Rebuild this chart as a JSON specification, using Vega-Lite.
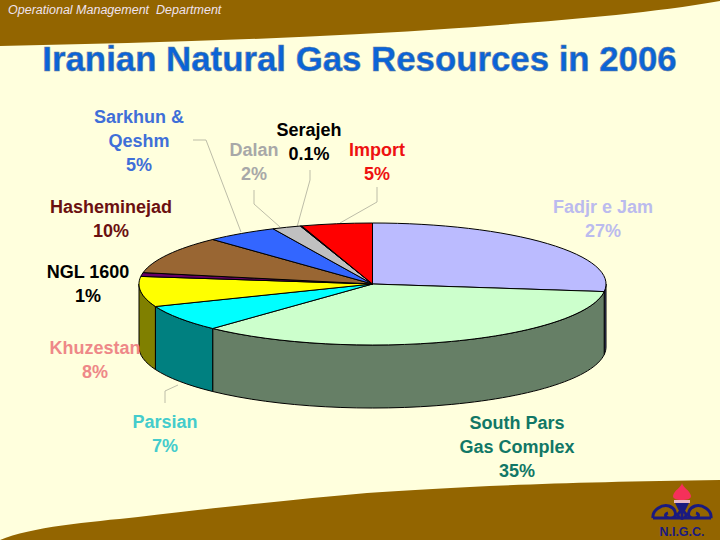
{
"$schema":"https://vega.github.io/schema/vega-lite/v6.json",
"width":720,"height":540,"padding":0,
"autosize":{"type":"fit","contains":"padding"},
"background":"#FFFFDD",
"config":{"view":{"stroke":null},"axis":{"grid":false}},
"datasets":{
"slices":[
{"name":"Fadjr e Jam","share":27,"label":"Fadjr e Jam\n27%","lx":603,"ly":199},
{"name":"South Pars Gas Complex","share":35,"label":"South Pars\nGas Complex\n35%","lx":517,"ly":415},
{"name":"Parsian","share":7,"label":"Parsian\n7%","lx":165,"ly":414},
{"name":"Khuzestan","share":8,"label":"Khuzestan\n8%","lx":95,"ly":340},
{"name":"NGL 1600","share":1,"label":"NGL 1600\n1%","lx":88,"ly":264},
{"name":"Hasheminejad","share":10,"label":"Hasheminejad\n10%","lx":111,"ly":199},
{"name":"Sarkhun & Qeshm","share":5,"label":"Sarkhun &\nQeshm\n5%","lx":139,"ly":109},
{"name":"Dalan","share":2,"label":"Dalan\n2%","lx":254,"ly":142},
{"name":"Serajeh","share":0.1,"label":"Serajeh\n0.1%","lx":309,"ly":122},
{"name":"Import","share":5,"label":"Import\n5%","lx":377,"ly":142}
],
"decor":[{"part":"top"},{"part":"bottom"},{"part":"flame"},{"part":"bar"},{"part":"funnel"}]
},
"layer":[
{"data":{"name":"decor"},
 "mark":{"type":"point","filled":true,"opacity":1,"strokeWidth":0},
 "encoding":{
  "x":{"datum":0,"type":"quantitative","scale":{"domain":[0,720],"nice":false,"zero":false},"axis":null},
  "y":{"datum":0,"type":"quantitative","scale":{"domain":[540,0],"nice":false,"zero":false},"axis":null},
  "size":{"value":4},
  "shape":{"field":"part","type":"nominal","legend":null,"scale":{"domain":["top","bottom","flame","bar","funnel"],"range":[
   "M0 0L720 0L720 1C640 15 540 22 459 28C300 39 150 43 0 46Z",
   "M0 540C30 527 90 522 138 517C230 506 300 499 367 493C450 487 560 482 720 480L720 540Z",
   "M682 483C683 488 690 490 691 496C691 499 687 500 682 500C677 500 673 499 673 496C674 490 681 488 682 483Z",
   "M674 500L690 500L690 503L674 503Z",
   "M675 503L689 503L685 511L679 511Z"
  ]}},
  "fill":{"field":"part","type":"nominal","legend":null,"scale":{"domain":["top","bottom","flame","bar","funnel"],"range":["#936500","#936500","#F5305A","#E8B8C8","#1A1A80"]}}
 }},
{"data":{"values":[{"part":"arabesque"}]},
 "mark":{"type":"point","filled":false,"opacity":1,"stroke":"#1A1A80","strokeWidth":3},
 "encoding":{
  "x":{"datum":0,"type":"quantitative"},
  "y":{"datum":0,"type":"quantitative"},
  "size":{"value":4},
  "shape":{"field":"part","type":"nominal","legend":null,"scale":{"domain":["arabesque"],"range":[
   "M653 518L711 518M653 518C652 510 662 504 669 506C677 509 678 519 670 518C665 518 664 514 668 513M711 518C712 510 702 504 695 506C687 509 686 519 694 518C699 518 700 514 696 513M682 509L682 518M678 515A4 3.5 0 1 0 686 515A4 3.5 0 1 0 678 515"
  ]}}
 }},
{"data":{"name":"slices"},
 "transform":[{"filter":{"field":"name","oneOf":["Sarkhun & Qeshm","Dalan","Serajeh","Import","Parsian"]}}],
 "mark":{"type":"point","filled":false,"opacity":1,"stroke":"#BDBDA8","strokeWidth":1},
 "encoding":{
  "x":{"datum":0,"type":"quantitative"},
  "y":{"datum":0,"type":"quantitative"},
  "size":{"value":4},
  "shape":{"field":"name","type":"nominal","legend":null,"scale":{"domain":["Sarkhun & Qeshm","Dalan","Serajeh","Import","Parsian"],"range":[
   "M193 140L206 140L241 232","M254 190L254 204L280 227","M310 170L310 180L297 227","M377 187L377 202L340 223","M165 403L165 391L178 385"
  ]}}
 }},
{"data":{"name":"slices"},
 "transform":[{"filter":{"field":"name","oneOf":["Fadjr e Jam","South Pars Gas Complex","Parsian","Khuzestan"]}}],
 "mark":{"type":"point","filled":true,"opacity":1,"stroke":"#000000","strokeWidth":1},
 "encoding":{
  "x":{"datum":372.5,"type":"quantitative"},
  "y":{"datum":284,"type":"quantitative"},
  "size":{"value":4},
  "shape":{"field":"name","type":"nominal","legend":null,"scale":{"domain":["Fadjr e Jam","South Pars Gas Complex","Parsian","Khuzestan"],"range":[
   "M233.5 0A233.5 61 0 0 1 231.7 7.6L231.7 70.6A233.5 61 0 0 0 233.5 63Z",
   "M231.7 7.6A233.5 61 0 0 1 -159.8 44.5L-159.8 107.5A233.5 61 0 0 0 231.7 70.6Z",
   "M-159.8 44.5A233.5 61 0 0 1 -217.1 22.5L-217.1 85.5A233.5 61 0 0 0 -159.8 107.5Z",
   "M-217.1 22.5A233.5 61 0 0 1 -233.5 0L-233.5 63A233.5 61 0 0 0 -217.1 85.5Z"
  ]}},
  "fill":{"field":"name","type":"nominal","legend":null,"scale":{"domain":["Fadjr e Jam","South Pars Gas Complex","Parsian","Khuzestan"],"range":["#4A4A80","#667F66","#008080","#808000"]}}
 }},
{"data":{"name":"slices"},
 "mark":{"type":"point","filled":true,"opacity":1,"stroke":"#000000","strokeWidth":1},
 "encoding":{
  "x":{"datum":372.5,"type":"quantitative"},
  "y":{"datum":284,"type":"quantitative"},
  "size":{"value":4},
  "shape":{"field":"name","type":"nominal","legend":null,"scale":{"domain":["Fadjr e Jam","South Pars Gas Complex","Parsian","Khuzestan","NGL 1600","Hasheminejad","Sarkhun & Qeshm","Dalan","Serajeh","Import"],"range":[
   "M0 0L0 -61A233.5 61 0 0 1 231.7 7.6Z",
   "M0 0L231.7 7.6A233.5 61 0 0 1 -159.8 44.5Z",
   "M0 0L-159.8 44.5A233.5 61 0 0 1 -217.1 22.5Z",
   "M0 0L-217.1 22.5A233.5 61 0 0 1 -231.7 -7.6Z",
   "M0 0L-231.7 -7.6A233.5 61 0 0 1 -229.4 -11.4Z",
   "M0 0L-229.4 -11.4A233.5 61 0 0 1 -159.8 -44.5Z",
   "M0 0L-159.8 -44.5A233.5 61 0 0 1 -99.4 -55.2Z",
   "M0 0L-99.4 -55.2A233.5 61 0 0 1 -72.2 -58Z",
   "M0 0L-72.2 -58A233.5 61 0 0 1 -70.8 -58.1Z",
   "M0 0L-70.8 -58.1A233.5 61 0 0 1 0 -61Z"
  ]}},
  "fill":{"field":"name","type":"nominal","legend":null,"scale":{"domain":["Fadjr e Jam","South Pars Gas Complex","Parsian","Khuzestan","NGL 1600","Hasheminejad","Sarkhun & Qeshm","Dalan","Serajeh","Import"],"range":["#BBBBFF","#CCFFCC","#00FFFF","#FFFF00","#660066","#996633","#3366FF","#C0C0C0","#000066","#FF0000"]}}
 }},
{"data":{"name":"slices"},
 "mark":{"type":"text","font":"Liberation Sans","fontWeight":"bold","fontSize":18,"align":"center","baseline":"top","lineBreak":"\n","lineHeight":24},
 "encoding":{
  "x":{"field":"lx","type":"quantitative"},
  "y":{"field":"ly","type":"quantitative"},
  "text":{"field":"label","type":"nominal"},
  "color":{"field":"name","type":"nominal","legend":null,"scale":{"domain":["Fadjr e Jam","South Pars Gas Complex","Parsian","Khuzestan","NGL 1600","Hasheminejad","Sarkhun & Qeshm","Dalan","Serajeh","Import"],"range":["#BBBBEE","#117766","#44CCCC","#EE8888","#000000","#6B1010","#3F6FD8","#A8A8A8","#000000","#EE1111"]}}
 }},
{"data":{"values":[{"t":"Iranian Natural Gas Resources in 2006","x":359.5,"y":61}]},
 "mark":{"type":"text","font":"Liberation Sans","fontWeight":"bold","fontSize":34.8,"align":"center","baseline":"middle","fill":"#0A64D8","stroke":"#6C7C98","strokeWidth":0.6},
 "encoding":{"x":{"field":"x","type":"quantitative"},"y":{"field":"y","type":"quantitative"},"text":{"field":"t","type":"nominal"}}},
{"data":{"values":[{"t":"Operational Management \u00a0Department","x":8,"y":10}]},
 "mark":{"type":"text","font":"Liberation Sans","fontStyle":"italic","fontSize":12.5,"align":"left","baseline":"middle","fill":"#EFE3EF"},
 "encoding":{"x":{"field":"x","type":"quantitative"},"y":{"field":"y","type":"quantitative"},"text":{"field":"t","type":"nominal"}}},
{"data":{"values":[{"t":"N.I.G.C.","x":682,"y":532}]},
 "mark":{"type":"text","font":"Liberation Sans","fontWeight":"bold","fontSize":12.5,"align":"center","baseline":"middle","fill":"#1A1A80"},
 "encoding":{"x":{"field":"x","type":"quantitative"},"y":{"field":"y","type":"quantitative"},"text":{"field":"t","type":"nominal"}}}
],
"resolve":{"scale":{"shape":"independent","fill":"independent","color":"independent"}}
}
